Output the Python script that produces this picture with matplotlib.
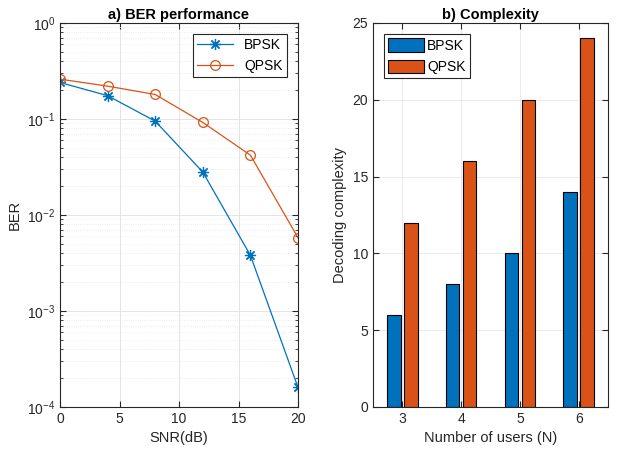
import numpy as np
import matplotlib
matplotlib.use("Agg")
import matplotlib.pyplot as plt
from matplotlib.ticker import LogLocator, NullFormatter, MultipleLocator

plt.rcParams['font.family'] = ['Liberation Sans', 'DejaVu Sans']
plt.rcParams['font.size'] = 10

snr = [0, 4, 8, 12, 16, 20]
ber_bpsk = [0.24, 0.175, 0.095, 0.028, 0.0038, 0.00016]
ber_qpsk = [0.26, 0.22, 0.18, 0.092, 0.042, 0.0058]

users = [3, 4, 5, 6]
cx_bpsk = [6, 8, 10, 14]
cx_qpsk = [12, 16, 20, 24]

blue = '#0072BD'
orange = '#D95319'
txt = '#262626'

fig = plt.figure(figsize=(6.18, 4.49), dpi=100)
ax1 = fig.add_axes([60/618, 1-407/449, 238/618, 384/449])
ax2 = fig.add_axes([373/618, 1-407/449, 235/618, 384/449])

def style(ax):
    for s in ax.spines.values():
        s.set_color(txt)
        s.set_linewidth(0.8)
    ax.tick_params(direction='in', which='both', top=True, right=True, colors=txt, labelcolor=txt, labelsize=10)
    ax.tick_params(which='major', length=4)
    ax.tick_params(which='minor', length=2)

# Left
ax1.semilogy(snr, ber_bpsk, '-', marker=(8, 2, 0), color=blue, lw=0.9, ms=8, mew=0.9, label='BPSK')
ax1.semilogy(snr, ber_qpsk, '-o', color=orange, lw=0.9, ms=7, mfc='none', mew=0.9, label='QPSK')
ax1.set_xlim(0, 20)
ax1.set_ylim(1e-4, 1)
ax1.set_xticks([0, 5, 10, 15, 20])
ax1.yaxis.set_major_locator(LogLocator(base=10, numticks=10))
ax1.yaxis.set_minor_locator(LogLocator(base=10, subs=np.arange(2, 10), numticks=20))
ax1.yaxis.set_minor_formatter(NullFormatter())
ax1.grid(True, which='major', color='#dfdfdf', lw=0.6)
ax1.grid(True, which='minor', axis='y', color='#e6e6e6', lw=0.6, ls=':')
ax1.set_axisbelow(True)
style(ax1)
ax1.set_xlabel('SNR(dB)', color=txt, fontsize=10.5)
ax1.set_ylabel('BER', color=txt, fontsize=10.5)
ax1.set_title('a) BER performance', fontweight='bold', color='black', fontsize=10.5, pad=3)
leg = ax1.legend(loc='upper right', fancybox=False, edgecolor=txt, framealpha=1, borderpad=0.3, handlelength=2.6, fontsize=10, borderaxespad=0.8)
leg.get_frame().set_linewidth(0.8)

# Right
x = np.array(users, dtype=float)
w = 0.23
off = 0.145
ax2.bar(x - off, cx_bpsk, w, color=blue, edgecolor='black', lw=0.8, label='BPSK')
ax2.bar(x + off, cx_qpsk, w, color=orange, edgecolor='black', lw=0.8, label='QPSK')
ax2.set_xlim(2.5, 6.5)
ax2.set_ylim(0, 25)
ax2.set_xticks(users)
ax2.yaxis.set_major_locator(MultipleLocator(5))
ax2.grid(True, color='#e6e6e6', lw=0.6)
ax2.set_axisbelow(True)
style(ax2)
ax2.set_xlabel('Number of users (N)', color=txt, fontsize=10.5)
ax2.set_ylabel('Decoding complexity', color=txt, fontsize=10.5)
ax2.set_title('b) Complexity', fontweight='bold', color='black', fontsize=10.5, pad=3)
leg2 = ax2.legend(loc='upper left', fancybox=False, edgecolor=txt, framealpha=1, borderpad=0.3, handlelength=2.6, handleheight=1.1, handletextpad=0.2, fontsize=10, borderaxespad=0.8)
leg2.get_frame().set_linewidth(0.8)

fig.savefig('out.png', dpi=100)
